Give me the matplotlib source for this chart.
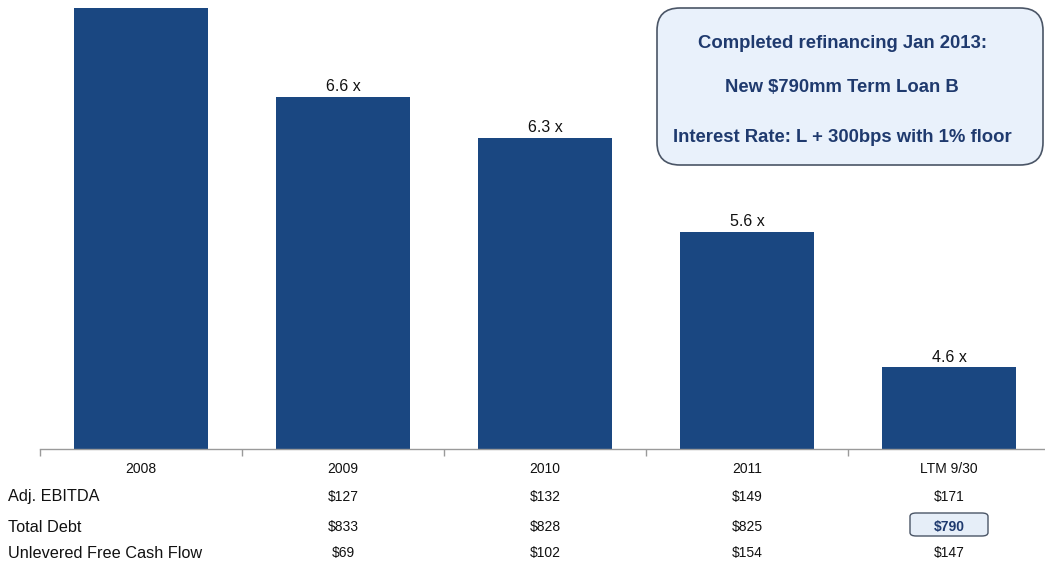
import matplotlib
matplotlib.use("Agg")
import matplotlib.pyplot as plt
from matplotlib.patches import FancyBboxPatch
from matplotlib import transforms

plt.rcParams['font.family'] = ['Liberation Sans', 'DejaVu Sans']

# Leverage (Total Debt / Adj. EBITDA) by period
categories = ["2008", "2009", "2010", "2011", "LTM 9/30"]
leverage = [7.6, 6.6, 6.3, 5.6, 4.6]

# Summary table rows ($mm)
row_names = ["Adj. EBITDA", "Total Debt", "Unlevered Free Cash Flow"]
adj_ebitda = ["", "$127", "$132", "$149", "$171"]
total_debt = ["", "$833", "$828", "$825", "$790"]
unlevered_fcf = ["", "$69", "$102", "$154", "$147"]

callout_lines = [
    "Completed refinancing Jan 2013:",
    "New $790mm Term Loan B",
    "Interest Rate: L + 300bps with 1% floor",
]

W, H = 1045, 567
BAR = "#1a4781"
NAVY = "#1f3a6e"

fig = plt.figure(figsize=(W / 100, H / 100), dpi=100)
fig.patch.set_facecolor("white")


def fx(px):
    return px / W


def fy(py):
    return 1 - py / H


ax_left, ax_right = 40, 1045
ax_top, ax_bot = 8, 448.5
ax = fig.add_axes([fx(ax_left), fy(ax_bot), fx(ax_right - ax_left), (ax_bot - ax_top) / H])

x = list(range(len(categories)))
ax.bar(x, leverage, width=0.665, color=BAR, zorder=2)
ymin, ymax = 4.0, 7.26
ax.set_ylim(ymin, ymax)
ax.set_xlim(-0.5, -0.5 + (ax_right - ax_left) / 202)

# Multiple labels above the bars whose tops fall inside the frame
for xi, v in zip(x, leverage):
    if v < ymax - 0.2:
        ax.annotate(f"{v:.1f} x", (xi, v), xytext=(0, 7.5), textcoords="offset points",
                    ha="center", va="center", fontsize=11.5, color="#111111")

for s in ["top", "right", "left"]:
    ax.spines[s].set_visible(False)
ax.spines["bottom"].set_color("#9a9a9a")
ax.spines["bottom"].set_linewidth(1.0)
ax.set_yticks([])
ax.set_xticks([i - 0.5 for i in range(len(categories))])
ax.set_xticklabels([])
ax.tick_params(axis="x", direction="out", length=5, color="#9a9a9a", width=1)

# Category labels and table rows, placed on the bar scale horizontally
trans = transforms.blended_transform_factory(ax.transData, fig.transFigure)
for xi, c in zip(x, categories):
    fig.text(xi, fy(469), c, transform=trans, ha="center", va="center",
             fontsize=10, color="#111111")

rows = [adj_ebitda, total_debt, unlevered_fcf]
row_y = [497, 527, 553]
for name, vals, ry in zip(row_names, rows, row_y):
    fig.text(fx(8), fy(ry), name, ha="left", va="center", fontsize=11.7, color="#111111")
    for xi, v in zip(x, vals):
        if not v:
            continue
        highlight = (vals is total_debt and xi == len(categories) - 1)
        fig.text(xi, fy(ry), v, transform=trans, ha="center", va="center",
                 fontsize=10, color=NAVY if highlight else "#111111",
                 fontweight="bold" if highlight else "normal")

# Highlight box around the new debt figure
hb = FancyBboxPatch((fx(910), fy(536)), fx(988 - 910), (536 - 513) / H,
                    boxstyle="round,pad=0,rounding_size=0.006",
                    transform=fig.transFigure, facecolor="#e6eef8",
                    edgecolor="#4a5566", linewidth=1.0, zorder=0)
fig.patches.append(hb)

# Refinancing callout
cb = FancyBboxPatch((fx(657), fy(165)), fx(1043 - 657), (165 - 8) / H,
                    boxstyle="round,pad=0,rounding_size=0.022",
                    transform=fig.transFigure, facecolor="#e9f1fb",
                    edgecolor="#4a5566", linewidth=1.2, zorder=5, mutation_aspect=1.8)
fig.patches.append(cb)
for line, ly in zip(callout_lines, [43, 88, 138]):
    fig.text(fx(842), fy(ly), line, ha="center", va="center", fontsize=13.3,
             fontweight="bold", color=NAVY, zorder=6)

fig.savefig("out.png", dpi=100, facecolor="white")
